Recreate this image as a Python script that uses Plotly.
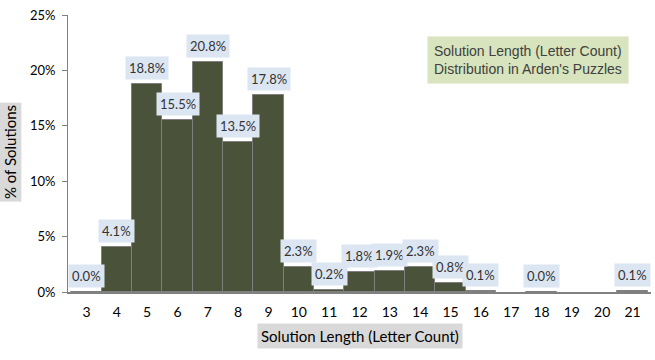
import plotly.graph_objects as go

categories = ["3","4","5","6","7","8","9","10","11","12","13","14","15","16","17","18","19","20","21"]
values = [0.0, 4.1, 18.8, 15.5, 20.8, 13.5, 17.8, 2.3, 0.2, 1.8, 1.9, 2.3, 0.8, 0.1, None, 0.0, None, None, 0.1]
y_ticks = [0, 5, 10, 15, 20, 25]
y_tick_labels = ["0%", "5%", "10%", "15%", "20%", "25%"]
title_text = "Solution Length (Letter Count)<br>Distribution in Arden's Puzzles"
x_title = "Solution Length (Letter Count)"
y_title = "% of Solutions"

FONT = "Lato"
fig = go.Figure()
fig.add_trace(go.Bar(
    x=categories, y=values,
    marker=dict(color="#4a5339", line=dict(color="#7f7f7f", width=1)),
    hoverinfo="skip",
))

annotations = []
for i, (c, v) in enumerate(zip(categories, values)):
    if v is None:
        continue
    annotations.append(dict(
        x=i, y=v, xref="x", yref="y", text=f"{v:.1f}%",
        showarrow=False, yanchor="bottom", yshift=4,
        bgcolor="#dce6f2", borderpad=3,
        font=dict(family=FONT, size=13, color="#333333"),
    ))

annotations.append(dict(
    x=0.789, y=0.838, xref="paper", yref="paper", text=title_text,
    showarrow=False, xanchor="center", yanchor="middle",
    bgcolor="#d7e4bd", borderpad=6, align="left",
    font=dict(family="Liberation Sans Narrow, Liberation Sans", size=14, color="#404040"),
))
annotations.append(dict(
    x=-0.0995, y=0.505, xref="paper", yref="paper", text=y_title,
    showarrow=False, textangle=-90, xanchor="center", yanchor="middle",
    bgcolor="#d9d9d9", borderpad=2,
    font=dict(family=FONT, size=15, color="#000000"),
))
annotations.append(dict(
    x=0.5, y=-0.159, xref="paper", yref="paper", text=x_title,
    showarrow=False, xanchor="center", yanchor="middle",
    bgcolor="#d9d9d9", borderpad=3,
    font=dict(family=FONT, size=15, color="#000000"),
))

fig.update_layout(
    width=655, height=360,
    margin=dict(l=68, r=4, t=15, b=68),
    paper_bgcolor="white", plot_bgcolor="white",
    bargap=0, showlegend=False,
    annotations=annotations,
    xaxis=dict(type="category", categoryorder="array", categoryarray=categories,
               showline=True, linecolor="#808080", linewidth=1.5,
               ticks="", showgrid=False, automargin=False, ticklabelstandoff=6,
               tickfont=dict(family=FONT, size=14, color="#000000"),
               fixedrange=True),
    yaxis=dict(range=[0, 25], tickvals=y_ticks, ticktext=y_tick_labels,
               showline=True, linecolor="#808080", linewidth=1,
               ticks="outside", ticklen=5, tickcolor="#808080",
               showgrid=False, zeroline=False, automargin=False, ticklabelstandoff=4,
               tickfont=dict(family=FONT, size=13, color="#000000"), fixedrange=True),
)
fig.write_html("out.html", config={"displayModeBar": False},
               post_script="document.body.style.margin='0px';")
